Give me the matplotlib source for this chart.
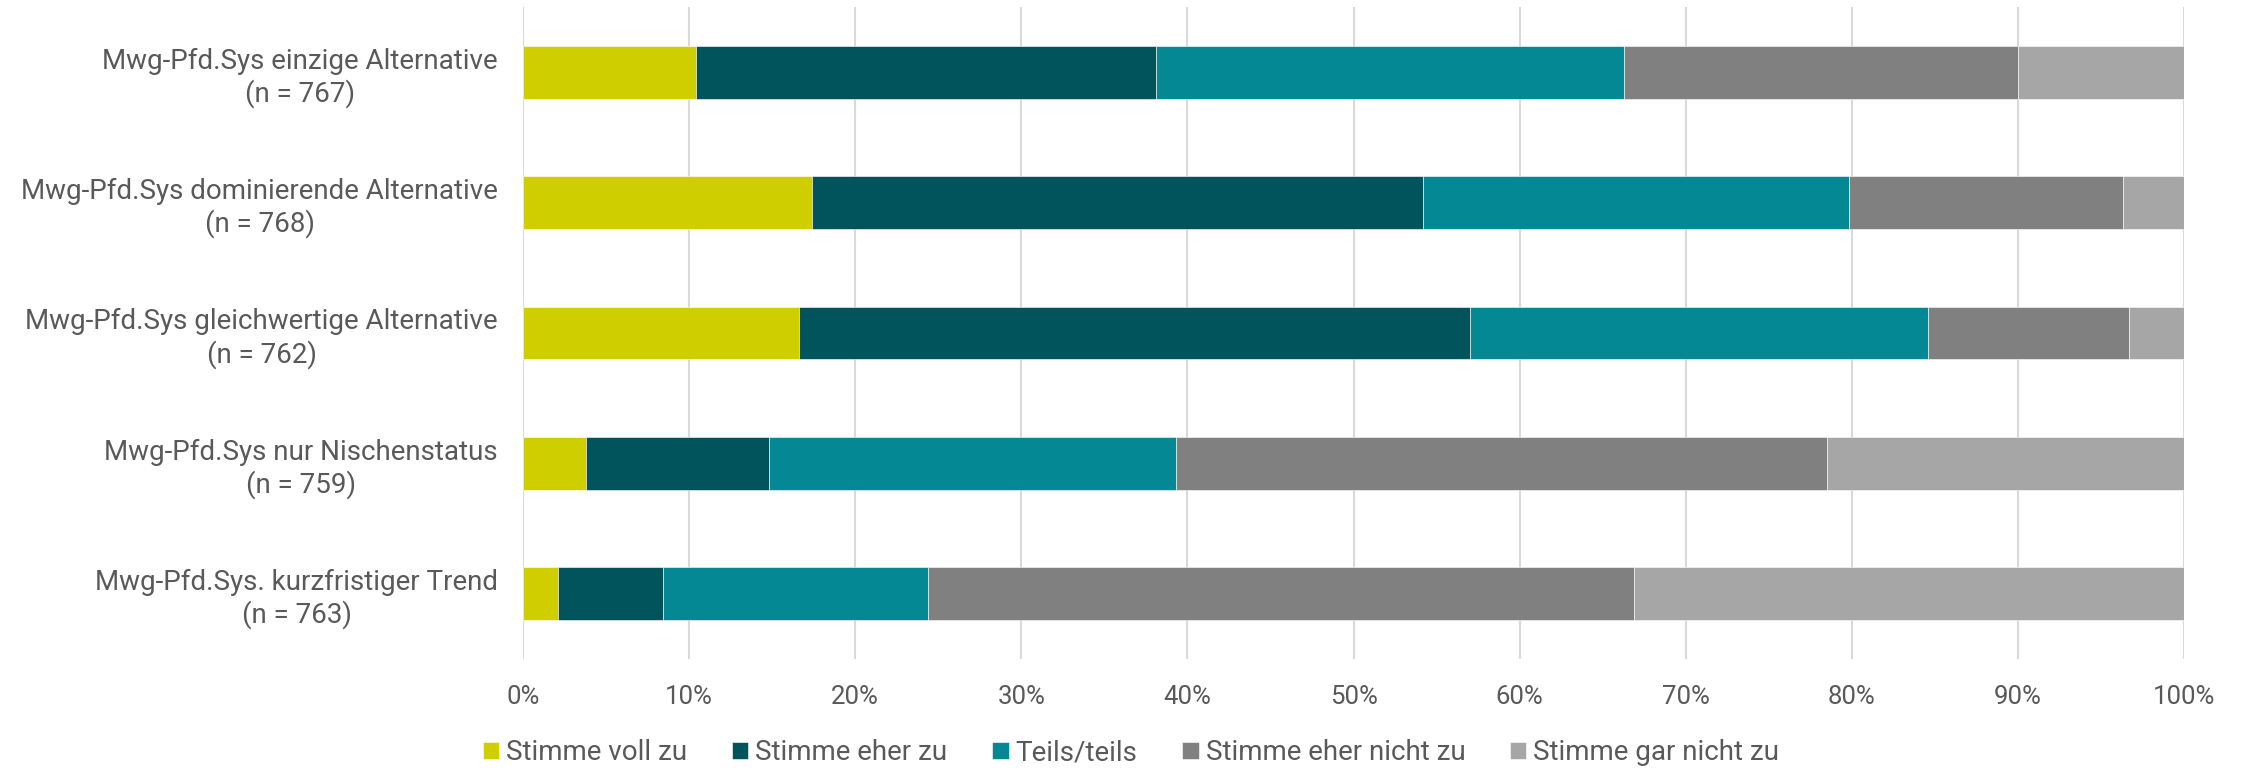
import matplotlib.pyplot as plt
import numpy as np

plt.rcParams['font.family'] = ['Roboto', 'DejaVu Sans']

# Data (shares in %)
categories = [
    'Mwg-Pfd.Sys einzige Alternative\n(n = 767)',
    'Mwg-Pfd.Sys dominierende Alternative\n(n = 768)',
    'Mwg-Pfd.Sys gleichwertige Alternative\n(n = 762)',
    'Mwg-Pfd.Sys nur Nischenstatus\n(n = 759)',
    'Mwg-Pfd.Sys. kurzfristiger Trend\n(n = 763)',
]
series_names = ['Stimme voll zu', 'Stimme eher zu', 'Teils/teils',
                'Stimme eher nicht zu', 'Stimme gar nicht zu']
voll_zu = [10.4, 17.4, 16.6, 3.8, 2.1]
eher_zu = [27.7, 36.8, 40.4, 11.0, 6.3]
teils = [28.2, 25.6, 27.6, 24.5, 16.0]
eher_nicht = [23.7, 16.5, 12.1, 39.2, 42.5]
gar_nicht = [10.0, 3.7, 3.3, 21.5, 33.1]
colors = ['#CECE00', '#01545C', '#038894', '#808080', '#A6A6A6']

series = [voll_zu, eher_zu, teils, eher_nicht, gar_nicht]
text_color = '#595959'

fig = plt.figure(figsize=(22.44, 7.68), dpi=100)
ax = fig.add_axes([0.2331, 0.1419, 0.7402, 0.849])

y = np.arange(len(categories))
left = np.zeros(len(categories))
for name, vals, c in zip(series_names, series, colors):
    ax.barh(y, vals, left=left, height=0.405, color=c, label=name,
            edgecolor='white', linewidth=0.4, zorder=3)
    left += np.array(vals)

ax.set_xlim(0, 100)
ax.set_ylim(len(categories) - 0.5, -0.5)
ax.set_xticks(np.arange(0, 101, 10))
ax.set_xticklabels([f'{v}%' for v in range(0, 101, 10)])
ax.set_yticks(y)
ax.set_yticklabels(categories, multialignment='center', linespacing=1.2)

ax.grid(axis='x', color='#D9D9D9', linewidth=1.5, zorder=0)
ax.tick_params(axis='x', length=0, pad=19, labelsize=18.5, labelcolor=text_color)
ax.tick_params(axis='y', length=0, pad=18, labelsize=20, labelcolor=text_color)
for s in ax.spines.values():
    s.set_visible(False)

fig.legend(loc='center', bbox_to_anchor=(0.504, 0.02), ncol=5, frameon=False,
           fontsize=20, labelcolor=text_color, handlelength=0.6, handleheight=0.6,
           handletextpad=0.25, columnspacing=1.6)

fig.savefig('out.png', dpi=100)
